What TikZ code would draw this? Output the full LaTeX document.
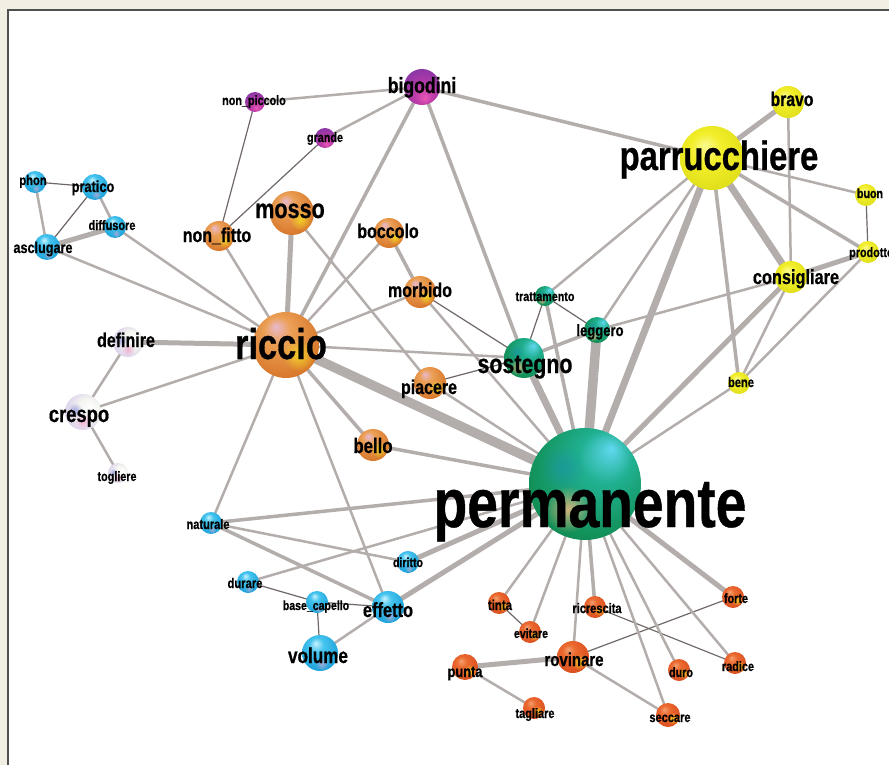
\documentclass[tikz,border=0pt]{standalone}
\usepackage{fontspec}
\newfontfamily\labfont[FakeStretch=0.8,FakeBold=0.6]{Liberation Sans}
\usetikzlibrary{fadings}
\newcommand\labsz[1]{\labfont\bfseries\fontsize{#1}{#1}\selectfont}
\definecolor{bgbeige}{HTML}{F2EEE3}
\definecolor{framec}{HTML}{505050}
\definecolor{edgec}{HTML}{B3ADAB}
\definecolor{thinc}{HTML}{6F6866}
\definecolor{orA}{HTML}{E9B9CF}\definecolor{orB}{HTML}{EBA055}\definecolor{orC}{HTML}{D8782C}\definecolor{orD}{HTML}{A4521C}
\definecolor{blA}{HTML}{C8F2FF}\definecolor{blB}{HTML}{45C4EE}\definecolor{blC}{HTML}{1DA2DA}\definecolor{blD}{HTML}{1478B8}
\definecolor{whA}{HTML}{FFFFFF}\definecolor{whB}{HTML}{F4F6F0}\definecolor{whC}{HTML}{D6C8EA}\definecolor{whD}{HTML}{A898D0}
\definecolor{puA}{HTML}{E858B8}\definecolor{puB}{HTML}{C03CA8}\definecolor{puC}{HTML}{8A36A6}\definecolor{puD}{HTML}{5E2A86}
\definecolor{grA}{HTML}{60D8F0}\definecolor{grB}{HTML}{20B090}\definecolor{grC}{HTML}{129058}\definecolor{grD}{HTML}{0A6A40}
\definecolor{yeA}{HTML}{FAFA90}\definecolor{yeB}{HTML}{F2EE2A}\definecolor{yeC}{HTML}{DEDC18}\definecolor{yeD}{HTML}{B4B814}
\definecolor{reA}{HTML}{F4A070}\definecolor{reB}{HTML}{EC6A30}\definecolor{reC}{HTML}{DA5020}\definecolor{reD}{HTML}{B43C12}
\definecolor{hlyel}{HTML}{F8E020}
\definecolor{hlpeach}{HTML}{F0B880}
\definecolor{hlpink}{HTML}{F0A8D0}
\definecolor{hllil}{HTML}{8C90DC}
\definecolor{hlteal}{HTML}{1A8CB8}
\pgfdeclareradialshading{sphOr}{\pgfqpoint{-8bp}{14bp}}{color(0bp)=(orA); color(10bp)=(orB); color(30bp)=(orC); color(46bp)=(orD); color(50bp)=(orD)}
\pgfdeclareradialshading{sphBl}{\pgfqpoint{-6bp}{14bp}}{color(0bp)=(blA); color(10bp)=(blB); color(30bp)=(blC); color(46bp)=(blD); color(50bp)=(blD)}
\pgfdeclareradialshading{sphWh}{\pgfqpoint{10bp}{6bp}}{color(0bp)=(whA); color(14bp)=(whB); color(34bp)=(whC); color(48bp)=(whD); color(50bp)=(whD)}
\pgfdeclareradialshading{sphPu}{\pgfqpoint{4bp}{-16bp}}{color(0bp)=(puA); color(12bp)=(puB); color(32bp)=(puC); color(46bp)=(puD); color(50bp)=(puD)}
\pgfdeclareradialshading{sphGr}{\pgfqpoint{12bp}{16bp}}{color(0bp)=(grA); color(12bp)=(grB); color(30bp)=(grC); color(46bp)=(grD); color(50bp)=(grD)}
\pgfdeclareradialshading{sphYe}{\pgfqpoint{-6bp}{10bp}}{color(0bp)=(yeA); color(12bp)=(yeB); color(32bp)=(yeC); color(47bp)=(yeD); color(50bp)=(yeD)}
\pgfdeclareradialshading{sphRe}{\pgfqpoint{-8bp}{12bp}}{color(0bp)=(reA); color(10bp)=(reB); color(30bp)=(reC); color(46bp)=(reD); color(50bp)=(reD)}
\tikzfading[name=fz, inner color=transparent!0, outer color=transparent!100]
\pgfdeclarelayer{panel}
\pgfdeclarelayer{edges}
\pgfsetlayers{panel,edges,main}
\tikzset{
  sp/.style={circle, inner sep=0pt, outer sep=0pt, draw=none, minimum size=#1},
  gOr/.style={shading=sphOr}, gBl/.style={shading=sphBl}, gWh/.style={shading=sphWh},
  gPu/.style={shading=sphPu}, gGr/.style={shading=sphGr}, gYe/.style={shading=sphYe},
  gRe/.style={shading=sphRe},
  lab/.style={anchor=base, inner sep=0pt, text=black, font=\labsz{#1}},
  e1/.style={draw=thinc, line width=1.2pt},
  e2/.style={draw=edgec, line width=2.5pt},
  e3/.style={draw=edgec, line width=3.5pt},
  e4/.style={draw=edgec, line width=5pt},
  e5/.style={draw=edgec, line width=7pt},
  e6/.style={draw=edgec, line width=9.5pt},
}
\begin{document}
\begin{tikzpicture}[x=1pt,y=-1pt]
\useasboundingbox (0,0) rectangle (889,765);
\begin{pgfonlayer}{panel}
\fill[bgbeige] (0,0) rectangle (889,765);
\draw[framec, line width=2pt, fill=white] (8,10) rectangle (905,785);
\end{pgfonlayer}
% spheres
\node[sp=36, gPu] (bigodini) at (422,87) {};
\node[sp=20, gPu] (nonpiccolo) at (255,102) {};
\node[sp=20, gPu] (grande) at (325,138) {};
\node[sp=22, gBl] (phon) at (35,182) {};
\node[sp=26, gBl] (pratico) at (95,187) {};
\node[sp=22, gBl] (diffusore) at (115,227) {};
\node[sp=26, gBl] (asclugare) at (47,247) {};
\node[sp=30, gOr] (nonfitto) at (219,236) {};
\node[sp=44, gOr] (mosso) at (292,213) {};
\node[sp=30, gOr] (boccolo) at (389,233) {};
\node[sp=32, gOr] (morbido) at (420,292) {};
\node[sp=66, gOr] (riccio) at (286,345) {};
\node[sp=30, gWh] (definire) at (128,342) {};
\node[sp=36, gWh] (crespo) at (83,412) {};
\node[sp=20, gWh] (togliere) at (118,473) {};
\node[sp=32, gOr] (piacere) at (430,383) {};
\node[sp=32, gOr] (bello) at (373,445) {};
\node[sp=40, gGr] (sostegno) at (524,358) {};
\node[sp=20, gGr] (trattamento) at (545,296) {};
\node[sp=26, gGr] (leggero) at (597,330) {};
\node[sp=112, gGr] (permanente) at (585,484) {};
\node[sp=64, gYe] (parrucchiere) at (712,158) {};
\node[sp=32, gYe] (bravo) at (788,102) {};
\node[sp=22, gYe] (buon) at (866,195) {};
\node[sp=22, gYe] (prodotto) at (868,252) {};
\node[sp=32, gYe] (consigliare) at (791,277) {};
\node[sp=22, gYe] (bene) at (739,383) {};
\node[sp=22, gBl] (naturale) at (211,523) {};
\node[sp=22, gBl] (diritto) at (408,562) {};
\node[sp=22, gBl] (durare) at (248,582) {};
\node[sp=22, gBl] (basecapello) at (317,602) {};
\node[sp=32, gBl] (effetto) at (388,607) {};
\node[sp=36, gBl] (volume) at (320,653) {};
\node[sp=22, gRe] (tinta) at (499,603) {};
\node[sp=22, gRe] (evitare) at (530,632) {};
\node[sp=22, gRe] (ricrescita) at (595,607) {};
\node[sp=22, gRe] (forte) at (733,597) {};
\node[sp=32, gRe] (rovinare) at (573,657) {};
\node[sp=26, gRe] (punta) at (465,667) {};
\node[sp=22, gRe] (tagliare) at (534,708) {};
\node[sp=22, gRe] (duro) at (679,670) {};
\node[sp=22, gRe] (radice) at (735,663) {};
\node[sp=24, gRe] (seccare) at (668,715) {};
% highlights
\foreach \n/\r in {riccio/33,mosso/22,nonfitto/15,boccolo/15,morbido/16,piacere/16,bello/16,
  tinta/11,evitare/11,ricrescita/11,forte/11,rovinare/16,punta/13,tagliare/11,duro/11,radice/11,seccare/12}
  {\fill[hlyel, path fading=fz, fill opacity=0.8] ([shift={(0.38*\r,0.3*\r)}]\n.center) circle[radius={0.5*\r*1pt}];}
\foreach \n/\r in {permanente/56,sostegno/20,trattamento/10,leggero/13}
  {\fill[hlpeach, path fading=fz, fill opacity=0.85] ([shift={(-0.3*\r,0.45*\r)}]\n.center) circle[radius={0.42*\r*1pt}];
   \fill[hlteal, path fading=fz, fill opacity=0.45] ([shift={(-0.4*\r,-0.3*\r)}]\n.center) circle[radius={0.4*\r*1pt}];}
\foreach \n/\r in {phon/11,pratico/13,diffusore/11,asclugare/13,naturale/11,diritto/11,durare/11,basecapello/11,effetto/16,volume/18}
  {\fill[hlpink, path fading=fz, fill opacity=0.6] ([shift={(0.1*\r,0.6*\r)}]\n.center) circle[radius={0.38*\r*1pt}];}
\foreach \n/\r in {definire/15,crespo/18,togliere/10}
  {\fill[hlpink, path fading=fz, fill opacity=0.9] ([shift={(0,0.5*\r)}]\n.center) circle[radius={0.45*\r*1pt}];
   \fill[hllil, path fading=fz, fill opacity=0.75] ([shift={(-0.45*\r,-0.1*\r)}]\n.center) circle[radius={0.42*\r*1pt}];}
% edges
\begin{pgfonlayer}{edges}
\foreach \a/\b in {phon/pratico, pratico/asclugare, nonpiccolo/nonfitto, grande/nonfitto, morbido/sostegno,
  piacere/sostegno, sostegno/trattamento, trattamento/leggero, buon/prodotto, durare/basecapello,
  basecapello/effetto, basecapello/volume, tinta/evitare, ricrescita/radice, rovinare/forte}
  {\draw[e1] (\a.center) -- (\b.center);}
\foreach \a/\b in {phon/asclugare, pratico/diffusore, diffusore/riccio, asclugare/riccio, nonpiccolo/bigodini,
  grande/bigodini, nonfitto/riccio, mosso/piacere, boccolo/riccio, morbido/riccio, morbido/permanente,
  riccio/sostegno, riccio/crespo, riccio/naturale, riccio/effetto, piacere/permanente, trattamento/parrucchiere,
  leggero/parrucchiere, leggero/consigliare, parrucchiere/buon, bravo/consigliare, consigliare/bene,
  prodotto/bene, bene/permanente, permanente/durare, naturale/diritto, volume/effetto, permanente/tinta,
  permanente/evitare, permanente/rovinare, permanente/seccare, permanente/duro, permanente/radice,
  rovinare/seccare, punta/tagliare, definire/crespo, crespo/togliere}
  {\draw[e2] (\a.center) -- (\b.center);}
\foreach \a/\b in {bigodini/riccio, bigodini/sostegno, bigodini/parrucchiere, boccolo/morbido, riccio/bello,
  bello/permanente, sostegno/leggero, trattamento/permanente, parrucchiere/bene, parrucchiere/prodotto,
  permanente/naturale, naturale/effetto, permanente/ricrescita}
  {\draw[e3] (\a.center) -- (\b.center);}
\foreach \a/\b in {diffusore/asclugare, mosso/riccio, riccio/definire, parrucchiere/bravo, consigliare/prodotto,
  consigliare/permanente, permanente/diritto, permanente/effetto, permanente/forte, rovinare/punta}
  {\draw[e4] (\a.center) -- (\b.center);}
\foreach \a/\b in {sostegno/permanente, parrucchiere/permanente, parrucchiere/consigliare}
  {\draw[e5] (\a.center) -- (\b.center);}
\foreach \a/\b in {riccio/permanente, leggero/permanente}
  {\draw[e6] (\a.center) -- (\b.center);}
\end{pgfonlayer}
% labels
\node[lab=22] (bigodini-t) at (422,93) {bigodini};
\node[lab=13.5] (nonpiccolo-t) at (254,105) {non\_piccolo};
\node[lab=13.5] (grande-t) at (325,142) {grande};
\node[lab=14] (phon-t) at (33,185) {phon};
\node[lab=16] (pratico-t) at (93,192) {pratico};
\node[lab=13.7] (diffusore-t) at (112,230) {diffusore};
\node[lab=15.8] (asclugare-t) at (43,253) {asclugare};
\node[lab=20] (nonfitto-t) at (217,242) {non\_fitto};
\node[lab=27] (mosso-t) at (290,218) {mosso};
\node[lab=20] (boccolo-t) at (388,238) {boccolo};
\node[lab=20] (morbido-t) at (420,297) {morbido};
\node[lab=43] (riccio-t) at (281,359) {riccio};
\node[lab=20] (definire-t) at (126,347) {definire};
\node[lab=23] (crespo-t) at (79,422) {crespo};
\node[lab=13.5] (togliere-t) at (117,481) {togliere};
\node[lab=20] (piacere-t) at (429,394) {piacere};
\node[lab=21] (bello-t) at (373,453) {bello};
\node[lab=26.7] (sostegno-t) at (525,373) {sostegno};
\node[lab=13.4] (trattamento-t) at (545,301) {trattamento};
\node[lab=16.3] (leggero-t) at (600,336) {leggero};
\node[lab=41] (parrucchiere-t) at (719,170) {parrucchiere};
\node[lab=19.7] (bravo-t) at (792,106) {bravo};
\node[lab=13.3] (buon-t) at (870,198) {buon};
\node[lab=13.5, anchor=base west] (prodotto-t) at (849,257) {prodotto};
\node[lab=20.4] (consigliare-t) at (796,284) {consigliare};
\node[lab=13.9] (bene-t) at (741,387) {bene};
\node[lab=69] (permanente-t) at (590,527) {permanente};
\node[lab=13.8] (naturale-t) at (208,529) {naturale};
\node[lab=13.2] (diritto-t) at (408,567) {diritto};
\node[lab=14] (durare-t) at (245,588) {durare};
\node[lab=13.2] (basecapello-t) at (316,610) {base\_capello};
\node[lab=20.5] (effetto-t) at (388,617) {effetto};
\node[lab=21.4] (volume-t) at (318,663) {volume};
\node[lab=14.2] (tinta-t) at (500,610) {tinta};
\node[lab=13.2] (evitare-t) at (531,638) {evitare};
\node[lab=13.8] (ricrescita-t) at (597,613) {ricrescita};
\node[lab=13.5] (forte-t) at (736,603) {forte};
\node[lab=18.7] (rovinare-t) at (574,666) {rovinare};
\node[lab=16] (punta-t) at (465,677) {punta};
\node[lab=13.7] (tagliare-t) at (535,718) {tagliare};
\node[lab=13.5] (duro-t) at (681,677) {duro};
\node[lab=13.6] (radice-t) at (738,671) {radice};
\node[lab=13.8] (seccare-t) at (670,722) {seccare};
\end{tikzpicture}
\end{document}
